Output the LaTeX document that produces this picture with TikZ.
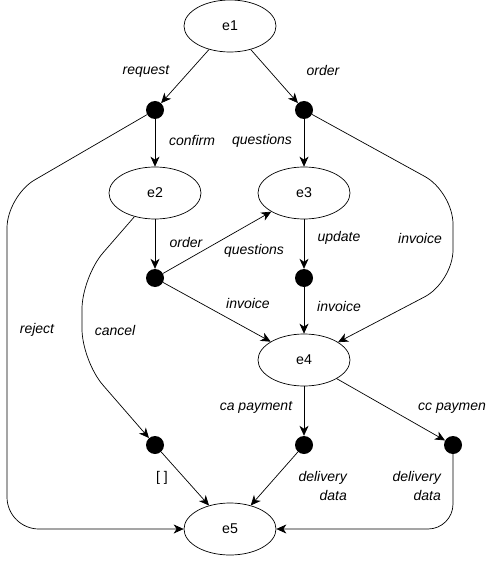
\documentclass[tikz,border=0pt]{standalone}
\usepackage{fontspec}
\setmainfont{Liberation Sans}
\usetikzlibrary{arrows.meta,shapes.geometric}
\begin{document}
\begin{tikzpicture}[x=1pt,y=-1pt,
  every node/.style={font=\fontsize{14.2}{19.5}\selectfont},
  state/.style={draw,ellipse,line width=0.7pt,minimum width=92pt,minimum height=52pt,inner sep=0pt},
  dot/.style={circle,fill=black,minimum size=18pt,inner sep=0pt},
  lbl/.style={font=\fontsize{14}{19.5}\selectfont\itshape,inner sep=0pt},
  arr/.style={line width=0.7pt,-{Stealth[length=10pt,width=9pt,inset=3pt]}},
  bentarr/.style={arr,rounded corners=32pt}]
\useasboundingbox (0,0) rectangle (486,561);
% states
\node[state] (e1) at (230,26) {e1};
\node[state] (e2) at (155,193) {e2};
\node[state] (e3) at (304,193) {e3};
\node[state] (e4) at (304,360) {e4};
\node[state] (e5) at (230,529) {e5};
% dots
\node[dot] (r) at (155,110) {};
\node[dot] (o) at (304,110) {};
\node[dot] (m) at (155,278) {};
\node[dot] (u) at (304,278) {};
\node[dot] (c) at (155,445) {};
\node[dot] (a) at (304,445) {};
\node[dot] (p) at (453,445) {};
% coordinates for bends
\coordinate (rj1) at (7,196);
\coordinate (rj2) at (7,529);
\coordinate (iv1) at (453,192);
\coordinate (iv2) at (453,282);
\coordinate (cn1) at (82,277);
\coordinate (cn2) at (82,361);
\coordinate (pp1) at (453,529);
% edges
\draw[arr] (e1) -- (r);
\draw[arr] (e1) -- (o);
\draw[arr] (r) -- (e2);
\draw[arr] (o) -- (e3);
\draw[bentarr] (r) -- (rj1) -- (rj2) -- (e5);
\draw[bentarr] (o) -- (iv1) -- (iv2) -- (e4);
\draw[arr] (e2) -- (m);
\draw[arr] (m) -- (e3);
\draw[arr] (m) -- (e4);
\draw[arr] (e3) -- (u);
\draw[arr] (u) -- (e4);
\draw[bentarr] (e2) -- (cn1) -- (cn2) -- (c);
\draw[arr] (e4) -- (a);
\draw[arr] (e4) -- (p);
\draw[arr] (c) -- (e5);
\draw[arr] (a) -- (e5);
\draw[arr,rounded corners=25pt] (p) -- (pp1) -- (e5);
% labels
\node[lbl] (l1) at (146,71) {request};
\node[lbl] (l2) at (323,71) {order};
\node[lbl] (l3) at (192,140) {confirm};
\node[lbl] (l4) at (262,141) {questions};
\node[lbl] (l5) at (186,242) {order};
\node[lbl] (l6) at (254,251) {questions};
\node[lbl] (l7) at (339,238) {update};
\node[lbl] (l8) at (420,238) {invoice};
\node[lbl] (l9) at (248,303) {invoice};
\node[lbl] (l10) at (339,306) {invoice};
\node[lbl] (l11) at (37,330) {reject};
\node[lbl] (l12) at (115,330) {cancel};
\node[lbl] (l13) at (256,407) {ca payment};
\node[lbl,anchor=west] (l14) at (418,407) {cc payment};
\node[lbl,font=\fontsize{14}{19.5}\selectfont] (l15) at (162,478) {[ ]};
\node[lbl,anchor=east,align=right] (l16) at (347,486) {delivery\\data};
\node[lbl,anchor=east,align=right] (l17) at (441,486) {delivery\\data};
\end{tikzpicture}
\end{document}
